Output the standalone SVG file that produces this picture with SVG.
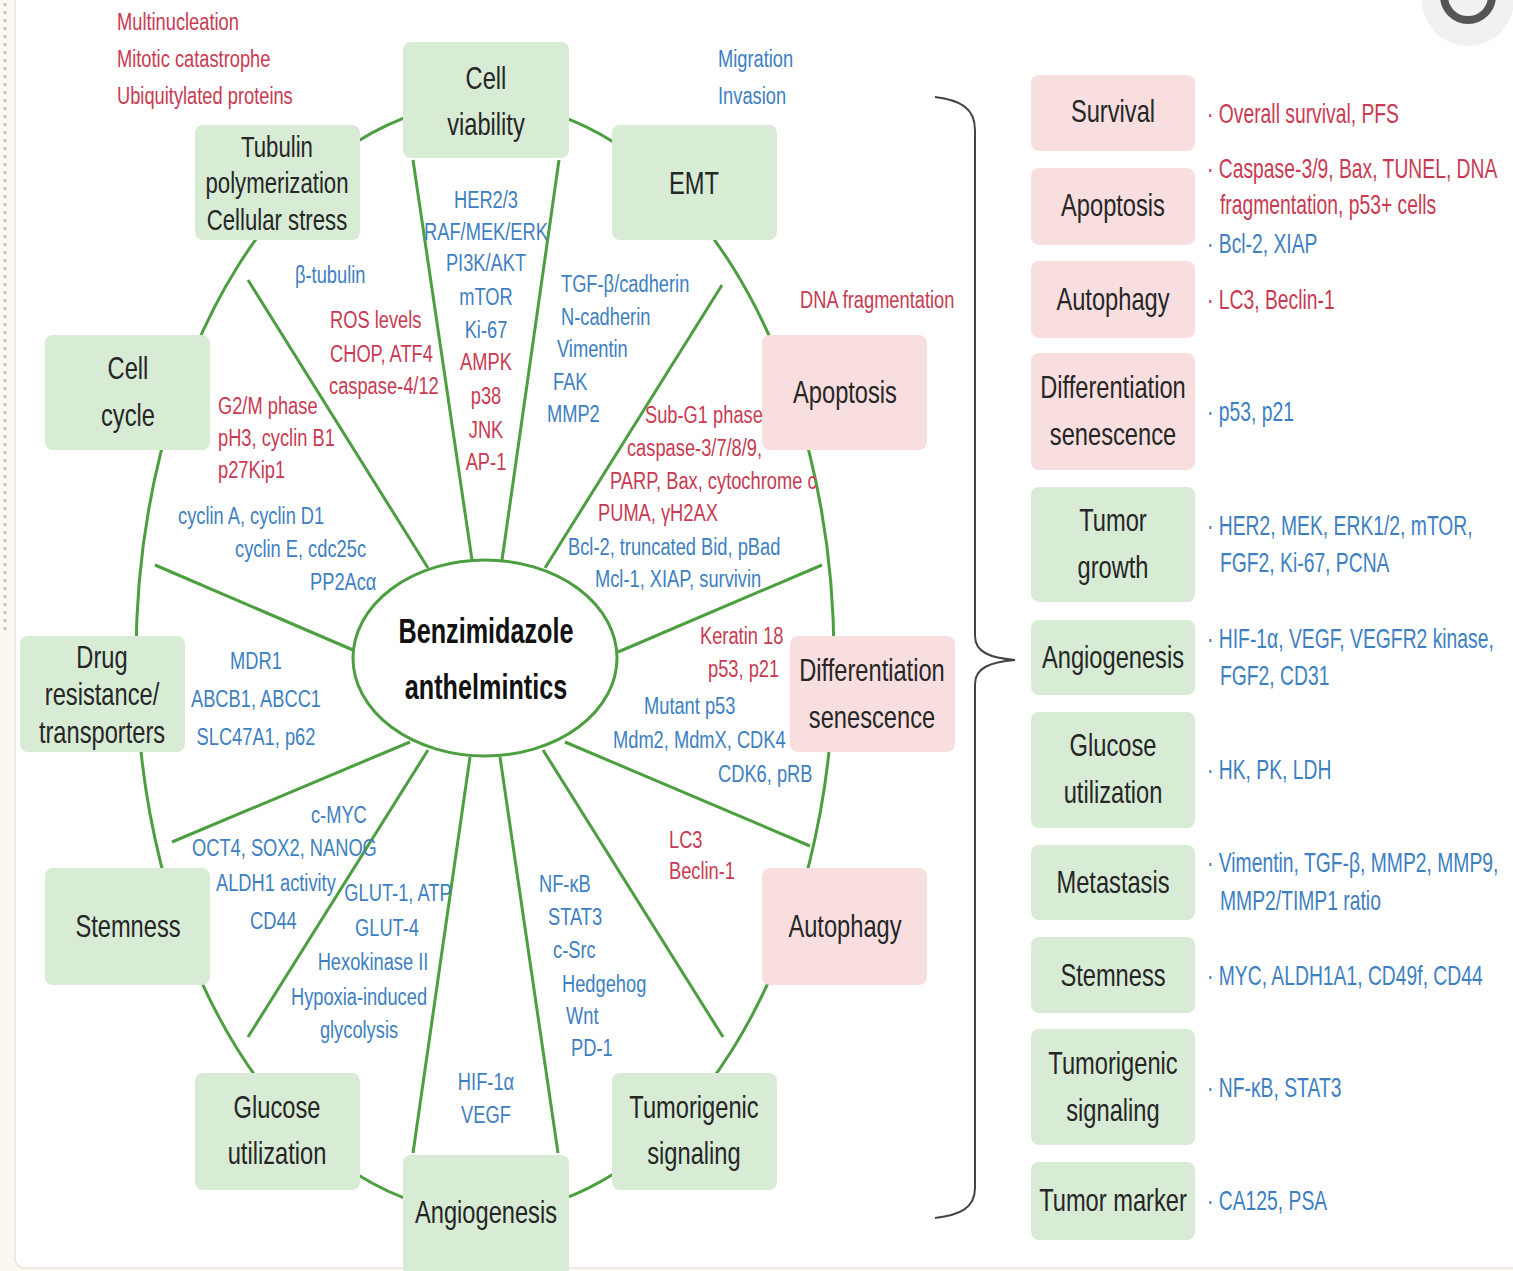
<svg xmlns="http://www.w3.org/2000/svg" width="1513" height="1271" viewBox="0 0 1513 1271">
<style>
text{font-family:"Liberation Sans",Arial,sans-serif;transform-box:fill-box;transform-origin:0 50%}
.g{fill:#d7ebd5}
.p{fill:#f8dede}
.n{font-size:32px;fill:#262626;text-anchor:middle;transform-origin:50% 50%;transform:scaleX(.74)}
.r,.b{font-size:23px;transform:scaleX(.795)}
.r{fill:#c93a52}
.b{fill:#3d80c2}
.m{text-anchor:middle;transform-origin:50% 50%}
.rr,.rb{font-size:27px;transform:scaleX(.715)}
.rr{fill:#c93a52}
.rb{fill:#3d80c2}
.c{font-size:36px;font-weight:bold;fill:#111;text-anchor:middle;transform-origin:50% 50%;transform:scaleX(.7)}
.ln{stroke:#4c9e40;stroke-width:3;fill:none}
</style>
<rect x="0" y="0" width="1513" height="1271" fill="#fbf8ef"/>
<rect x="15" y="-10" width="1520" height="1278" rx="10" fill="#ffffff" stroke="#e6e4de" stroke-width="1.5"/>
<line x1="5" y1="3" x2="5" y2="630" stroke="#c9c6bd" stroke-width="3" stroke-dasharray="3 5"/>
<circle cx="1468" cy="0" r="46" fill="#f1f1f1"/>
<circle cx="1468" cy="-4" r="24" fill="none" stroke="#555" stroke-width="8"/>

<g id="connectors">
<ellipse class="ln" cx="485" cy="658" rx="349" ry="555"/>
<line class="ln" x1="248" y1="280" x2="428" y2="568"/>
<line class="ln" x1="413" y1="160" x2="472" y2="560"/>
<line class="ln" x1="559" y1="160" x2="502" y2="560"/>
<line class="ln" x1="722" y1="285" x2="545" y2="568"/>
<line class="ln" x1="822" y1="565" x2="618" y2="652"/>
<line class="ln" x1="565" y1="742" x2="810" y2="846"/>
<line class="ln" x1="543" y1="750" x2="723" y2="1037"/>
<line class="ln" x1="500" y1="757" x2="558" y2="1153"/>
<line class="ln" x1="470" y1="757" x2="413" y2="1153"/>
<line class="ln" x1="428" y1="750" x2="248" y2="1037"/>
<line class="ln" x1="410" y1="742" x2="172" y2="842"/>
<line class="ln" x1="155" y1="565" x2="353" y2="650"/>
</g>

<g id="center">
<ellipse cx="485" cy="658" rx="132" ry="98" fill="#fff" stroke="#4c9e40" stroke-width="3"/>
<text class="c" x="486" y="643">Benzimidazole</text>
<text class="c" x="486" y="699">anthelmintics</text>
</g>

<g id="node-tubulin"><rect class="g" x="195" y="125" width="165" height="115" rx="8"/>
<text class="n" x="277" y="157" style="font-size:30px">Tubulin</text><text class="n" x="277" y="193" style="font-size:30px">polymerization</text><text class="n" x="277" y="230" style="font-size:30px">Cellular stress</text></g>
<g id="node-cell-viability"><rect class="g" x="403" y="42" width="166" height="116" rx="8"/>
<text class="n" x="486" y="89">Cell</text><text class="n" x="486" y="135">viability</text></g>
<g id="node-emt"><rect class="g" x="612" y="125" width="165" height="115" rx="8"/>
<text class="n" x="694" y="194">EMT</text></g>
<g id="node-cell-cycle"><rect class="g" x="45" y="335" width="165" height="115" rx="8"/>
<text class="n" x="128" y="379">Cell</text><text class="n" x="128" y="426">cycle</text></g>
<g id="node-apoptosis"><rect class="p" x="762" y="335" width="165" height="115" rx="8"/>
<text class="n" x="845" y="403">Apoptosis</text></g>
<g id="node-drug"><rect class="g" x="20" y="636" width="165" height="116" rx="8"/>
<text class="n" x="102" y="668">Drug</text><text class="n" x="102" y="705">resistance/</text><text class="n" x="102" y="743">transporters</text></g>
<g id="node-differentiation"><rect class="p" x="790" y="636" width="165" height="116" rx="8"/>
<text class="n" x="872" y="681">Differentiation</text><text class="n" x="872" y="728">senescence</text></g>
<g id="node-stemness"><rect class="g" x="45" y="868" width="165" height="117" rx="8"/>
<text class="n" x="128" y="937">Stemness</text></g>
<g id="node-autophagy"><rect class="p" x="762" y="868" width="165" height="117" rx="8"/>
<text class="n" x="845" y="937">Autophagy</text></g>
<g id="node-glucose"><rect class="g" x="195" y="1073" width="165" height="117" rx="8"/>
<text class="n" x="277" y="1118">Glucose</text><text class="n" x="277" y="1164">utilization</text></g>
<g id="node-tumorigenic"><rect class="g" x="612" y="1073" width="165" height="117" rx="8"/>
<text class="n" x="694" y="1118">Tumorigenic</text><text class="n" x="694" y="1164">signaling</text></g>
<g id="node-angiogenesis"><rect class="g" x="403" y="1155" width="166" height="125" rx="8"/>
<text class="n" x="486" y="1223">Angiogenesis</text></g>

<g id="labels">
<text class="r" x="117" y="30">Multinucleation</text>
<text class="r" x="117" y="67">Mitotic catastrophe</text>
<text class="r" x="117" y="104">Ubiquitylated proteins</text>
<text class="b" x="718" y="67">Migration</text>
<text class="b" x="718" y="104">Invasion</text>
<text class="r" x="800" y="308">DNA fragmentation</text>
<text class="b" x="295" y="283">β-tubulin</text>
<text class="r" x="330" y="328">ROS levels</text>
<text class="r" x="330" y="362">CHOP, ATF4</text>
<text class="r" x="329" y="394">caspase-4/12</text>
<text class="b m" x="486" y="208">HER2/3</text>
<text class="b m" x="486" y="240">RAF/MEK/ERK</text>
<text class="b m" x="486" y="271">PI3K/AKT</text>
<text class="b m" x="486" y="305">mTOR</text>
<text class="b m" x="486" y="338">Ki-67</text>
<text class="r m" x="486" y="370">AMPK</text>
<text class="r m" x="486" y="404">p38</text>
<text class="r m" x="486" y="438">JNK</text>
<text class="r m" x="486" y="470">AP-1</text>
<text class="b" x="561" y="292">TGF-β/cadherin</text>
<text class="b" x="561" y="325">N-cadherin</text>
<text class="b" x="557" y="357">Vimentin</text>
<text class="b" x="553" y="390">FAK</text>
<text class="b" x="547" y="422">MMP2</text>
<text class="r" x="218" y="414">G2/M phase</text>
<text class="r" x="218" y="446">pH3, cyclin B1</text>
<text class="r" x="218" y="478">p27Kip1</text>
<text class="b" x="178" y="524">cyclin A, cyclin D1</text>
<text class="b" x="235" y="557">cyclin E, cdc25c</text>
<text class="b" x="310" y="590">PP2Acα</text>
<text class="r" x="645" y="423">Sub-G1 phase</text>
<text class="r" x="627" y="456">caspase-3/7/8/9,</text>
<text class="r" x="610" y="489">PARP, Bax, cytochrome c</text>
<text class="r" x="598" y="521">PUMA, γH2AX</text>
<text class="b" x="568" y="555">Bcl-2, truncated Bid, pBad</text>
<text class="b" x="595" y="587">Mcl-1, XIAP, survivin</text>
<text class="r" x="700" y="644">Keratin 18</text>
<text class="r" x="708" y="677">p53, p21</text>
<text class="b" x="644" y="714">Mutant p53</text>
<text class="b" x="613" y="748">Mdm2, MdmX, CDK4</text>
<text class="b" x="718" y="782">CDK6, pRB</text>
<text class="b m" x="256" y="669">MDR1</text>
<text class="b m" x="256" y="707">ABCB1, ABCC1</text>
<text class="b m" x="256" y="745">SLC47A1, p62</text>
<text class="b" x="311" y="823">c-MYC</text>
<text class="b" x="192" y="856">OCT4, SOX2, NANOG</text>
<text class="b" x="216" y="891">ALDH1 activity</text>
<text class="b" x="250" y="929">CD44</text>
<text class="b m" x="398" y="901">GLUT-1, ATP</text>
<text class="b m" x="387" y="936">GLUT-4</text>
<text class="b m" x="373" y="970">Hexokinase II</text>
<text class="b m" x="359" y="1005">Hypoxia-induced</text>
<text class="b m" x="359" y="1038">glycolysis</text>
<text class="r" x="669" y="848">LC3</text>
<text class="r" x="669" y="879">Beclin-1</text>
<text class="b" x="539" y="892">NF-κB</text>
<text class="b" x="548" y="925">STAT3</text>
<text class="b" x="553" y="958">c-Src</text>
<text class="b" x="562" y="992">Hedgehog</text>
<text class="b" x="566" y="1024">Wnt</text>
<text class="b" x="571" y="1056">PD-1</text>
<text class="b m" x="486" y="1090">HIF-1α</text>
<text class="b m" x="486" y="1123">VEGF</text>
</g>

<g id="bracket">
<path d="M935,97 C960,100 975,108 975,130 L975,636 C975,652 990,658 1015,660 C990,662 975,668 975,684 L975,1188 C975,1208 960,1215 935,1218" fill="none" stroke="#444" stroke-width="2"/>
</g>

<g id="panel-survival"><rect class="p" x="1031" y="75" width="164" height="76" rx="8"/><text class="n" x="1113" y="122">Survival</text>
<text class="rr" x="1207" y="123">· Overall survival, PFS</text></g>
<g id="panel-apoptosis"><rect class="p" x="1031" y="168" width="164" height="77" rx="8"/><text class="n" x="1113" y="216">Apoptosis</text>
<text class="rr" x="1207" y="178">· Caspase-3/9, Bax, TUNEL, DNA</text>
<text class="rr" x="1220" y="214">fragmentation, p53+ cells</text>
<text class="rb" x="1207" y="253">· Bcl-2, XIAP</text></g>
<g id="panel-autophagy"><rect class="p" x="1031" y="261" width="164" height="77" rx="8"/><text class="n" x="1113" y="310">Autophagy</text>
<text class="rr" x="1207" y="309">· LC3, Beclin-1</text></g>
<g id="panel-differentiation"><rect class="p" x="1031" y="353" width="164" height="117" rx="8"/><text class="n" x="1113" y="398">Differentiation</text><text class="n" x="1113" y="445">senescence</text>
<text class="rb" x="1207" y="421">· p53, p21</text></g>
<g id="panel-tumor-growth"><rect class="g" x="1031" y="487" width="164" height="115" rx="8"/><text class="n" x="1113" y="531">Tumor</text><text class="n" x="1113" y="578">growth</text>
<text class="rb" x="1207" y="535">· HER2, MEK, ERK1/2, mTOR,</text>
<text class="rb" x="1220" y="572">FGF2, Ki-67, PCNA</text></g>
<g id="panel-angiogenesis"><rect class="g" x="1031" y="620" width="164" height="75" rx="8"/><text class="n" x="1113" y="668">Angiogenesis</text>
<text class="rb" x="1207" y="648">· HIF-1α, VEGF, VEGFR2 kinase,</text>
<text class="rb" x="1220" y="685">FGF2, CD31</text></g>
<g id="panel-glucose"><rect class="g" x="1031" y="712" width="164" height="116" rx="8"/><text class="n" x="1113" y="756">Glucose</text><text class="n" x="1113" y="803">utilization</text>
<text class="rb" x="1207" y="779">· HK, PK, LDH</text></g>
<g id="panel-metastasis"><rect class="g" x="1031" y="845" width="164" height="75" rx="8"/><text class="n" x="1113" y="893">Metastasis</text>
<text class="rb" x="1207" y="872">· Vimentin, TGF-β, MMP2, MMP9,</text>
<text class="rb" x="1220" y="910">MMP2/TIMP1 ratio</text></g>
<g id="panel-stemness"><rect class="g" x="1031" y="937" width="164" height="76" rx="8"/><text class="n" x="1113" y="986">Stemness</text>
<text class="rb" x="1207" y="985">· MYC, ALDH1A1, CD49f, CD44</text></g>
<g id="panel-tumorigenic"><rect class="g" x="1031" y="1029" width="164" height="116" rx="8"/><text class="n" x="1113" y="1074">Tumorigenic</text><text class="n" x="1113" y="1121">signaling</text>
<text class="rb" x="1207" y="1097">· NF-κB, STAT3</text></g>
<g id="panel-tumor-marker"><rect class="g" x="1031" y="1162" width="164" height="78" rx="8"/><text class="n" x="1113" y="1211">Tumor marker</text>
<text class="rb" x="1207" y="1210">· CA125, PSA</text></g>
</svg>
